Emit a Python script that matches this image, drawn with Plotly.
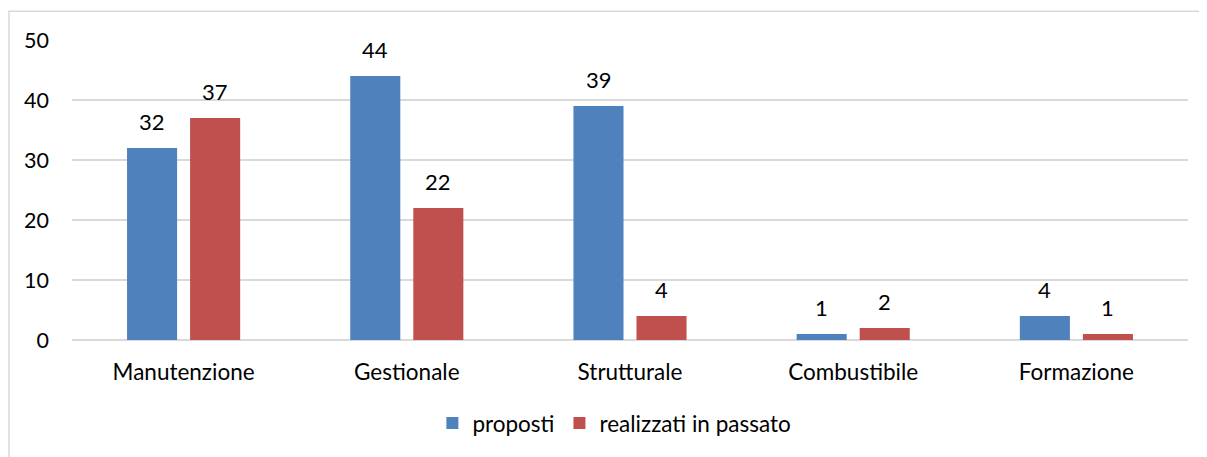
import plotly.graph_objects as go

categories = ["Manutenzione", "Gestionale", "Strutturale", "Combustibile", "Formazione"]
proposti = [32, 44, 39, 1, 4]
realizzati = [37, 22, 4, 2, 1]
series_names = ["proposti", "realizzati in passato"]
y_ticks = [0, 10, 20, 30, 40, 50]

BLUE = "#4F81BD"
RED = "#C0504D"
GRID = "#D9D9D9"
FONT = "Lato, 'Open Sans', sans-serif"

# page body adds an 8px offset; compensate
W, H = 1199, 449
ML, MT, PW, PH = 64, 32, 1116, 302

fig = go.Figure()
fig.add_trace(go.Bar(x=categories, y=proposti, name=series_names[0],
                     marker=dict(color=BLUE, line=dict(width=0))))
fig.add_trace(go.Bar(x=categories, y=realizzati, name=series_names[1],
                     marker=dict(color=RED, line=dict(width=0))))

for vals, shift in ((proposti, -31.5), (realizzati, 31.5)):
    for c, v in zip(categories, vals):
        fig.add_annotation(x=c, y=v, xref="x", yref="y", text=str(v),
                           showarrow=False, xshift=shift, yshift=27,
                           yanchor="middle", font=dict(size=22, color="#000000", family=FONT))

fig.update_layout(
    width=W, height=H,
    margin=dict(l=ML, r=W - ML - PW, t=MT, b=H - MT - PH),
    paper_bgcolor="white", plot_bgcolor="white",
    barmode="group", bargap=0.435, bargroupgap=0.206,
    font=dict(family=FONT, size=22, color="#000000"),
    showlegend=True,
    legend=dict(orientation="h", x=0.486, xanchor="center", y=-0.278, yanchor="middle",
                font=dict(size=22.5), traceorder="normal", itemwidth=30),
    xaxis=dict(showgrid=False, showline=False, ticks="", ticklabelstandoff=16,
               tickfont=dict(size=22.5)),
    yaxis=dict(range=[0, 50], tickvals=y_ticks, showgrid=True, gridcolor=GRID, gridwidth=1.5,
               zeroline=True, zerolinecolor=GRID, zerolinewidth=2, showline=False,
               ticks="", ticklabelstandoff=22, tickfont=dict(size=21.5)),
    shapes=[dict(type="rect", xref="paper", yref="paper",
                 x0=(1 - ML) / PW, x1=1.2, y0=-0.6, y1=(PH + MT - 3) / PH,
                 line=dict(color=GRID, width=1.5), layer="below")],
)

fig.write_html("out.html")
